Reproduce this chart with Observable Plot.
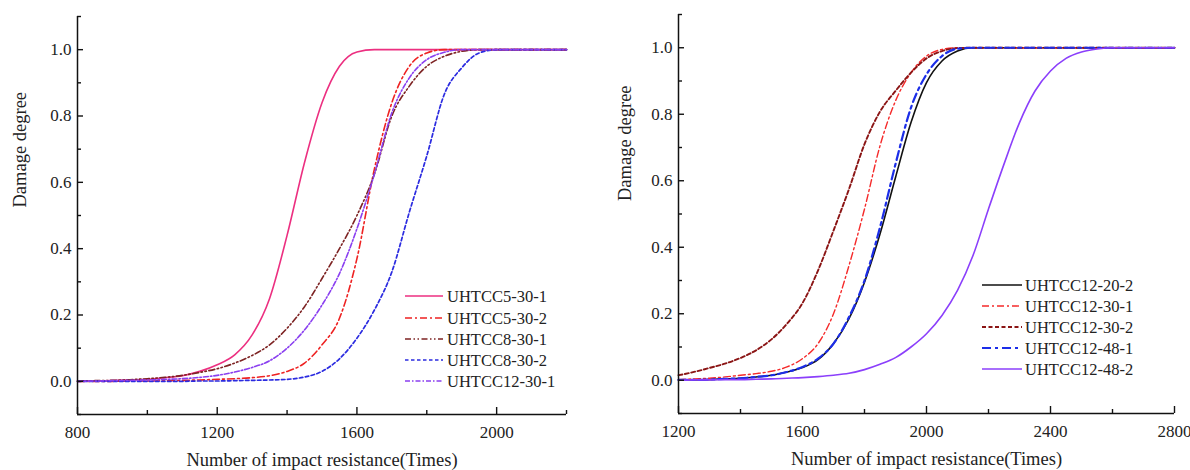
<!DOCTYPE html>
<html><head><meta charset="utf-8">
<script src="https://cdn.jsdelivr.net/npm/d3@7"></script>
<script src="https://cdn.jsdelivr.net/npm/@observablehq/plot@0.6"></script>
<style>
body{margin:0;background:#fff;}
#wrap{position:relative;width:1190px;height:470px;font-family:'Liberation Serif','DejaVu Serif',serif;}
#wrap svg{position:absolute;top:0;}
#wrap svg text{font-family:'Liberation Serif','DejaVu Serif',serif !important;}
</style></head><body><div id="wrap"></div>
<script>
// ---------- data ----------
const xLeft = [800,850,900,950,1000,1050,1100,1150,1200,1250,1300,1350,1400,1450,1500,1550,1600,1650,1700,1750,1800,1850,1900,1950,2000,2050,2100,2150,2200];
const leftNames = ["UHTCC5-30-1","UHTCC5-30-2","UHTCC8-30-1","UHTCC8-30-2","UHTCC12-30-1"];
const yU5_30_1 = [0,0.001,0.002,0.004,0.006,0.011,0.017,0.03,0.05,0.08,0.14,0.25,0.44,0.66,0.84,0.95,0.993,1,1,1,1,1,1,1,1,1,1,1,1];
const yU5_30_2 = [0,0,0,0.001,0.001,0.002,0.003,0.004,0.006,0.008,0.011,0.017,0.03,0.055,0.11,0.19,0.37,0.64,0.84,0.95,0.99,1,1,1,1,1,1,1,1];
const yU8_30_1 = [0.001,0.002,0.003,0.005,0.008,0.012,0.018,0.027,0.038,0.055,0.078,0.11,0.16,0.225,0.31,0.40,0.50,0.625,0.80,0.89,0.95,0.98,0.995,1,1,1,1,1,1];
const yU8_30_2 = [0,0,0,0,0,0,0,0.001,0.001,0.002,0.003,0.004,0.006,0.013,0.03,0.068,0.13,0.215,0.33,0.51,0.68,0.865,0.945,0.99,1,1,1,1,1];
const yU12_30_1 = [0,0.001,0.002,0.003,0.004,0.006,0.008,0.012,0.018,0.028,0.042,0.062,0.1,0.155,0.23,0.325,0.46,0.625,0.81,0.915,0.97,0.992,1,1,1,1,1,1,1];

const xRight = [1200,1250,1300,1350,1400,1450,1500,1550,1600,1650,1700,1750,1800,1850,1900,1950,2000,2050,2100,2150,2200,2250,2300,2350,2400,2450,2500,2550,2600,2650,2700,2750,2800];
const rightNames = ["UHTCC12-20-2","UHTCC12-30-1","UHTCC12-30-2","UHTCC12-48-1","UHTCC12-48-2"];
const yU12_20_2 = [0.001,0.001,0.002,0.004,0.006,0.01,0.015,0.025,0.038,0.062,0.11,0.185,0.295,0.44,0.61,0.775,0.895,0.96,0.99,1,1,1,1,1,1,1,1,1,1,1,1,1,1];
const yU12_30_1r = [0.002,0.004,0.006,0.01,0.015,0.02,0.027,0.04,0.065,0.11,0.2,0.345,0.515,0.705,0.84,0.925,0.975,0.995,1,1,1,1,1,1,1,1,1,1,1,1,1,1,1];
const yU12_30_2 = [0.015,0.025,0.037,0.05,0.067,0.09,0.123,0.17,0.232,0.33,0.45,0.575,0.71,0.808,0.87,0.925,0.968,0.99,0.999,1,1,1,1,1,1,1,1,1,1,1,1,1,1];
const yU12_48_1 = [0.001,0.001,0.002,0.004,0.006,0.01,0.015,0.025,0.04,0.065,0.11,0.19,0.30,0.46,0.65,0.82,0.92,0.975,0.997,1,1,1,1,1,1,1,1,1,1,1,1,1,1];
const yU12_48_2 = [0,0.001,0.001,0.002,0.002,0.003,0.004,0.006,0.008,0.011,0.015,0.021,0.032,0.048,0.068,0.1,0.14,0.195,0.27,0.375,0.515,0.65,0.775,0.87,0.93,0.968,0.987,0.996,1,1,1,1,1];

const leftTicks = [800,1200,1600,2000];
const leftMinor = [1000,1400,1800,2200];
const rightTicks = [1200,1600,2000,2400,2800];
const rightMinor = [1400,1800,2200,2600];
const yTicks = [0,0.2,0.4,0.6,0.8,1.0];
const yMinor = [-0.1,0.1,0.3,0.5,0.7,0.9,1.1];
const xTitle = "Number of impact resistance(Times)";
const yTitle = "Damage degree";

// ---------- styles ----------
const leftStyles = [
  {color:"#ec2f80", width:1.6, dash:null},
  {color:"#ee2222", width:1.6, dash:"7,3,2,3"},
  {color:"#7d2323", width:1.6, dash:"6,2.5,1.5,2.5,1.5,2.5"},
  {color:"#2b2be0", width:1.7, dash:"3.5,2.5"},
  {color:"#8a3ff0", width:1.6, dash:"5,2,1.5,2"}
];
const rightStyles = [
  {color:"#111111", width:1.6, dash:null},
  {color:"#f52a2a", width:1.4, dash:"7,3,2,3"},
  {color:"#8b1515", width:1.9, dash:"4,2.5"},
  {color:"#1c2ee8", width:2.2, dash:"9,4,3,4"},
  {color:"#8b3ffb", width:1.6, dash:null}
];

const FONT = "'Liberation Serif','DejaVu Serif',serif";
const wrap = document.getElementById("wrap");

function makePanel(cfg) {
  const rows = cfg.names.flatMap((name, i) => cfg.xs.map((x, j) => ({name, x, y: cfg.ys[i][j]})));
  const marks = [];
  cfg.names.forEach((name, i) => {
    const st = cfg.styles[i];
    marks.push(Plot.line(rows.filter(d => d.name === name), {
      x: "x", y: "y", stroke: st.color, strokeWidth: st.width,
      strokeDasharray: st.dash, curve: "monotone-x"
    }));
  });
  const axisStyle = {stroke: "#111", strokeWidth: 1.4, fontSize: 17, fill: "#222", label: null};
  marks.push(
    Plot.ruleX([cfg.xDomain[0]], {stroke: "#111", strokeWidth: 1.5}),
    Plot.ruleY([-0.1], {stroke: "#111", strokeWidth: 1.5}),
    Plot.axisX(cfg.majors, {...axisStyle, anchor: "bottom", tickSize: 7, dy: -7, tickPadding: 11, tickFormat: d => String(d)}),
    Plot.axisX(cfg.minors, {...axisStyle, anchor: "bottom", tickSize: 4, dy: -4, tickPadding: 11, tickFormat: () => ""}),
    Plot.axisY(yTicks, {...axisStyle, anchor: "left", tickSize: 6, dx: 6, tickPadding: 6, tickFormat: d3.format(".1f")}),
    Plot.axisY(yMinor, {...axisStyle, anchor: "left", tickSize: 4, dx: 4, tickPadding: 6, tickFormat: () => ""}),
    Plot.text([xTitle], {frameAnchor: "bottom", dy: 46, fontSize: 18.5, fill: "#222", lineAnchor: "middle"}),
    Plot.text([yTitle], {frameAnchor: "left", dx: cfg.yTitleDx, dy: cfg.yTitleDy, rotate: -90, fontSize: 18.5, fill: "#222", lineAnchor: "middle"})
  );
  const svg = Plot.plot({
    width: cfg.width, height: 470,
    marginLeft: cfg.ml, marginRight: cfg.mr, marginTop: cfg.mt, marginBottom: cfg.mb,
    style: {fontFamily: FONT, background: "transparent", overflow: "visible"},
    x: {domain: cfg.xDomain},
    y: {domain: [-0.1, 1.1]},
    marks
  });
  svg.style.left = cfg.left + "px";
  wrap.appendChild(svg);
}

makePanel({xs: xLeft, ys: [yU5_30_1, yU5_30_2, yU8_30_1, yU8_30_2, yU12_30_1], names: leftNames, styles: leftStyles,
  xDomain: [800, 2200], majors: leftTicks, minors: leftMinor,
  left: 0, width: 600, ml: 77, mr: 34, mt: 16, mb: 56, yTitleDx: -57, yTitleDy: -8});
makePanel({xs: xRight, ys: [yU12_20_2, yU12_30_1r, yU12_30_2, yU12_48_1, yU12_48_2], names: rightNames, styles: rightStyles,
  xDomain: [1200, 2800], majors: rightTicks, minors: rightMinor,
  left: 600, width: 590, ml: 78, mr: 16, mt: 14, mb: 57, yTitleDx: -53, yTitleDy: -13});

// ---------- legends ----------
const leg = d3.select(wrap).append("svg").attr("width", 1190).attr("height", 470).style("left", "0px").style("pointer-events", "none");
function legend(names, styles, x0, x1, tx, ys) {
  names.forEach((n, i) => {
    const st = styles[i];
    leg.append("line").attr("x1", x0).attr("x2", x1).attr("y1", ys[i]).attr("y2", ys[i])
      .attr("stroke", st.color).attr("stroke-width", st.width).attr("stroke-dasharray", st.dash);
    leg.append("text").attr("x", tx).attr("y", ys[i]).attr("dominant-baseline", "central")
      .style("font-family", FONT).attr("font-size", 16.5).attr("fill", "#222").text(n);
  });
}
legend(leftNames, leftStyles, 405, 443, 447, [296, 318, 339, 360, 381]);
legend(rightNames, rightStyles, 982, 1022, 1025, [285, 306, 327, 348, 369]);
</script></body></html>
